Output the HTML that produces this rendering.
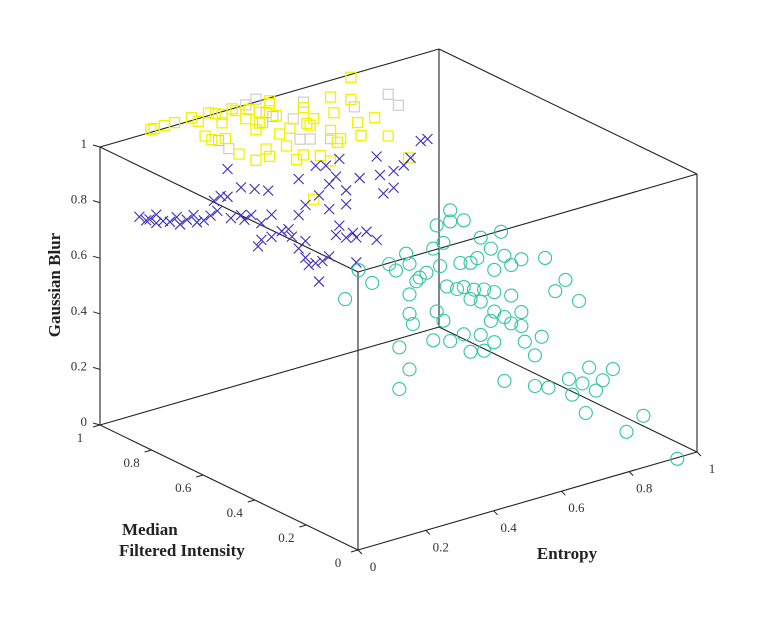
<!DOCTYPE html>
<html><head><meta charset="utf-8"><style>
html,body{margin:0;padding:0;background:#fff;}
svg{display:block;}
text{font-family:"Liberation Serif",serif;}
</style></head><body>
<svg id="chart" width="769" height="621" viewBox="0 0 769 621">
<g id="box"></g>
<g id="ticks"></g>
<g id="marks"></g>
<text x="60" y="285" font-size="17" font-weight="bold" fill="#222" text-anchor="middle" transform="rotate(-90 60 285)">Gaussian Blur</text>
<text x="122" y="535" font-size="17" font-weight="bold" fill="#222">Median</text>
<text x="119" y="556" font-size="17" font-weight="bold" fill="#222">Filtered Intensity</text>
<text x="567" y="559" font-size="17" font-weight="bold" fill="#222" text-anchor="middle">Entropy</text>
</svg>
<script>
// Tick values
const xTicks = [0, 0.2, 0.4, 0.6, 0.8, 1];
const yTicks = [0, 0.2, 0.4, 0.6, 0.8, 1];
const zTicks = [0, 0.2, 0.4, 0.6, 0.8, 1];
const xTickLabels = ["0","0.2","0.4","0.6","0.8","1"];
const yTickLabels = ["0","0.2","0.4","0.6","0.8","1"];
const zTickLabels = ["0","0.2","0.4","0.6","0.8","1"];

// Circles series (entropy, median, gaussian)
const circE = [0.00,0.04,0.08,0.13,0.15,0.18,0.19,0.22,0.21,0.24,0.27,0.31,0.31,0.35,0.29,0.26,0.28,0.34,0.37,0.39,0.43,0.46,0.40,0.44,0.47,0.52,0.49,0.59,0.35,0.38,0.41,0.44,0.30,0.33,0.37,0.40,0.49,0.44,0.47,0.49,0.52,0.52,0.53,0.56,0.58,0.62,0.65,0.69,0.19,0.19,0.20,0.27,0.29,0.35,0.40,0.43,0.44,0.41,0.37,0.26,0.31,0.16,0.19,0.16,0.47,0.56,0.60,0.66,0.67,0.70,0.72,0.76,0.79,0.71,0.88,0.83,0.98,0.74];
const circM = [0.05,0.05,0.05,0.05,0.05,0.05,0.05,0.05,0.05,0.05,0.05,0.05,0.05,0.05,0.05,0.05,0.05,0.05,0.05,0.05,0.05,0.05,0.05,0.05,0.05,0.05,0.05,0.05,0.05,0.05,0.05,0.05,0.05,0.05,0.05,0.05,0.05,0.05,0.05,0.05,0.05,0.05,0.05,0.05,0.05,0.05,0.05,0.05,0.05,0.05,0.05,0.05,0.05,0.05,0.05,0.05,0.05,0.05,0.05,0.05,0.05,0.05,0.05,0.05,0.05,0.05,0.05,0.05,0.05,0.05,0.05,0.05,0.05,0.05,0.05,0.05,0.05,0.05];
const circG = [0.88,0.97,0.91,0.96,0.93,0.98,0.94,0.88,0.87,0.89,1.05,1.09,1.05,1.04,0.98,0.97,0.90,0.89,0.88,0.89,0.91,0.96,0.96,0.83,0.87,0.84,0.83,0.82,0.80,0.78,0.77,0.75,0.82,0.80,0.75,0.73,0.72,0.68,0.65,0.62,0.65,0.60,0.54,0.48,0.54,0.69,0.72,0.63,0.83,0.76,0.72,0.74,0.70,0.63,0.61,0.65,0.57,0.55,0.56,0.64,0.62,0.65,0.56,0.50,0.42,0.37,0.35,0.36,0.30,0.33,0.38,0.32,0.35,0.22,0.15,0.11,-0.04,0.29];

// Cross series
const crossE = [0.04,0.06,0.07,0.09,0.09,0.11,0.13,0.15,0.16,0.18,0.20,0.21,0.23,0.25,0.27,0.26,0.28,0.30,0.31,0.34,0.35,0.37,0.40,0.34,0.30,0.38,0.42,0.43,0.40,0.39,0.43,0.46,0.48,0.49,0.51,0.53,0.51,0.53,0.54,0.56,0.57,0.58,0.60,0.62,0.63,0.65,0.67,0.68,0.71,0.74,0.68,0.60,0.65,0.57,0.60,0.62,0.65,0.69,0.75,0.74,0.76,0.79,0.79,0.82,0.87,0.89,0.84,0.56,0.59,0.63,0.51,0.53];
const crossM = [0.9,0.9,0.9,0.9,0.9,0.9,0.9,0.9,0.9,0.9,0.9,0.9,0.9,0.9,0.9,0.9,0.9,0.9,0.9,0.9,0.9,0.9,0.9,0.9,0.9,0.9,0.9,0.9,0.9,0.9,0.9,0.9,0.9,0.9,0.9,0.9,0.9,0.9,0.9,0.9,0.9,0.9,0.9,0.9,0.9,0.9,0.9,0.9,0.9,0.9,0.9,0.9,0.9,0.9,0.9,0.9,0.9,0.9,0.9,0.9,0.9,0.9,0.9,0.9,0.9,0.9,0.9,0.9,0.9,0.9,0.9,0.9];
const crossG = [0.78,0.76,0.76,0.74,0.77,0.74,0.73,0.74,0.71,0.72,0.73,0.70,0.70,0.71,0.72,0.76,0.77,0.76,0.68,0.68,0.66,0.67,0.63,0.78,0.86,0.76,0.74,0.65,0.57,0.55,0.57,0.58,0.58,0.55,0.62,0.65,0.50,0.46,0.43,0.43,0.36,0.43,0.44,0.51,0.54,0.49,0.50,0.48,0.49,0.45,0.39,0.61,0.61,0.67,0.70,0.72,0.66,0.69,0.68,0.75,0.61,0.62,0.68,0.69,0.76,0.76,0.71,0.78,0.77,0.78,0.75,0.52];

// Yellow squares series
const sqE = [0.15,0.16,0.19,0.22,0.27,0.29,0.32,0.34,0.36,0.39,0.40,0.43,0.44,0.47,0.50,0.50,0.31,0.33,0.37,0.36,0.46,0.41,0.46,0.49,0.50,0.53,0.52,0.56,0.60,0.62,0.63,0.68,0.68,0.69,0.70,0.60,0.55,0.58,0.65,0.68,0.71,0.74,0.76,0.77,0.74,0.81,0.85,0.91,0.63,0.47,0.61];
const sqM = [1,1,1,1,1,1,1,1,1,1,1,1,1,1,1,1,1,1,1,1,1,1,1,1,1,1,1,1,1,1,1,1,1,1,1,1,1,1,1,1,1,1,1,1,1,1,1,1,1,1,1];
const sqG = [1.01,1.01,1.01,1.01,1.01,0.99,1.01,1.00,0.99,1.00,0.99,0.95,0.98,0.96,0.99,0.98,0.93,0.91,0.90,0.96,0.90,0.83,0.79,0.82,0.79,0.86,0.93,0.87,0.93,0.86,0.88,0.82,0.94,0.88,0.77,0.76,0.81,0.75,0.74,0.71,0.78,0.99,0.82,0.77,0.91,0.82,0.74,0.64,0.59,0.92,0.87];

// Gray squares series
const gsqE = [0.43,0.46,0.49,0.48,0.51,0.60,0.75,0.85,0.88,0.38,0.35,0.57,0.62,0.68,0.59];
const gsqM = [1,1,1,1,1,1,1,1,1,1,1,1,1,1,1];
const gsqG = [1.00,1.01,0.95,0.92,0.93,0.95,0.88,0.89,0.84,0.86,0.90,0.90,0.81,0.79,0.82];

const NS = "http://www.w3.org/2000/svg";
function px(e, m, g) { return 358 + 339 * e - 258 * m; }
function py(e, m, g) { return 550 - 98 * e - 125 * m - 278 * g; }
function mk(tag, attrs, parent) {
  const el = document.createElementNS(NS, tag);
  for (const k in attrs) el.setAttribute(k, attrs[k]);
  parent.appendChild(el);
  return el;
}
const box = document.getElementById('box');
const ticks = document.getElementById('ticks');
const marks = document.getElementById('marks');
const edges = [
  [[0,0,0],[1,0,0],'x-axis-line'],[[0,0,0],[0,1,0],'y-axis-line'],[[0,0,0],[0,0,1],'front-vertical-edge'],
  [[1,0,0],[1,0,1],'right-vertical-edge'],[[0,1,0],[0,1,1],'z-axis-line'],[[1,1,0],[1,1,1],'back-vertical-edge'],
  [[0,0,1],[1,0,1],'top-front-edge'],[[0,0,1],[0,1,1],'top-left-edge'],[[1,0,1],[1,1,1],'top-right-edge'],[[0,1,1],[1,1,1],'top-back-edge'],
  [[0,1,0],[1,1,0],'bottom-back-left-edge'],[[1,0,0],[1,1,0],'bottom-back-right-edge']
];
edges.forEach(ed => {
  const a = ed[0], b = ed[1];
  const ln = mk('line', {x1: px(...a), y1: py(...a), x2: px(...b), y2: py(...b), stroke: '#222', 'stroke-width': 1.1}, box);
  
  
});
xTicks.forEach((v, i) => {
  const x = px(v,0,0), y = py(v,0,0);
  const t = mk('line', {x1: x, y1: y, x2: x + 4, y2: y + 4, stroke: '#222'}, ticks);
  
  
  const l = mk('text', {x: x + 15, y: y + 21, 'font-size': 13, fill: '#333', 'text-anchor': 'middle'}, ticks);
  l.textContent = xTickLabels[i];
  
  
});
yTicks.forEach((v, i) => {
  const x = px(0,v,0), y = py(0,v,0);
  const t = mk('line', {x1: x, y1: y, x2: x - 7, y2: y + 2, stroke: '#222'}, ticks);
  
  
  const l = mk('text', {x: x - 20, y: y + 17, 'font-size': 13, fill: '#333', 'text-anchor': 'middle'}, ticks);
  l.textContent = yTickLabels[i];
  
  
});
zTicks.forEach((v, i) => {
  const x = px(0,1,v), y = py(0,1,v);
  const t = mk('line', {x1: x, y1: y, x2: x - 7, y2: y - 2, stroke: '#222'}, ticks);
  
  
  const l = mk('text', {x: x - 13, y: y + 1, 'font-size': 13, fill: '#333', 'text-anchor': 'end'}, ticks);
  l.textContent = zTickLabels[i];
  
  
});
gsqE.forEach((e, i) => {
  const x = px(e, gsqM[i], gsqG[i]), y = py(e, gsqM[i], gsqG[i]);
  const r = mk('rect', {x: x - 5, y: y - 5, width: 10, height: 10, fill: 'none', stroke: '#c4c4c4', 'stroke-width': 1}, marks);
  
  
});
sqE.forEach((e, i) => {
  const x = px(e, sqM[i], sqG[i]), y = py(e, sqM[i], sqG[i]);
  const r = mk('rect', {x: x - 5, y: y - 5, width: 10, height: 10, fill: 'none', stroke: '#f2f200', 'stroke-width': 1.3}, marks);
  
  
});
crossE.forEach((e, i) => {
  const x = px(e, crossM[i], crossG[i]), y = py(e, crossM[i], crossG[i]);
  const p = mk('path', {d: `M${x-5},${y-5}L${x+5},${y+5}M${x-5},${y+5}L${x+5},${y-5}`, stroke: '#3a2dbf', 'stroke-width': 1.1, fill: 'none'}, marks);
  
  
});
circE.forEach((e, i) => {
  const x = px(e, circM[i], circG[i]), y = py(e, circM[i], circG[i]);
  const c = mk('circle', {cx: x, cy: y, r: 6.5, fill: 'none', stroke: '#2fc79b', 'stroke-width': 1.1}, marks);
  
  
});
</script>
</body></html>
